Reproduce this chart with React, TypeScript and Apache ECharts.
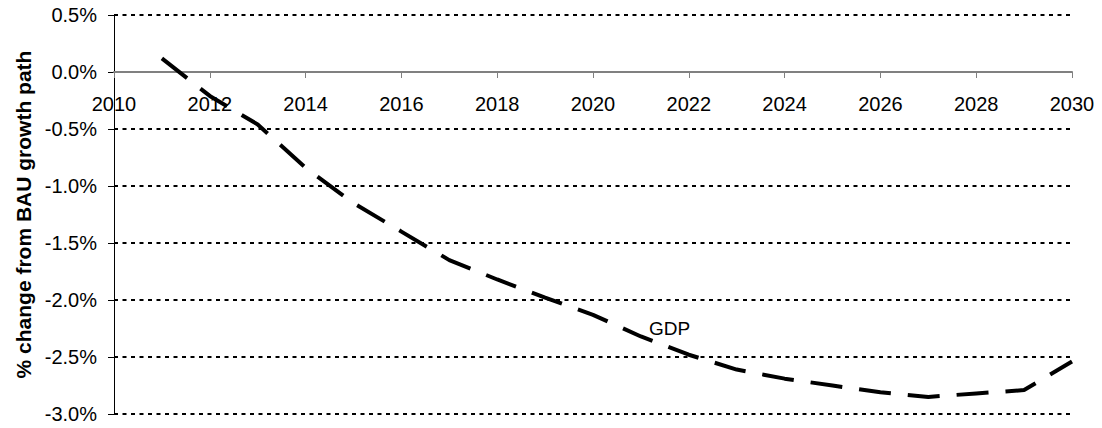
import React, { useEffect, useRef } from "react";
import * as echarts from "echarts";

const years = [2011, 2012, 2013, 2014, 2015, 2016, 2017, 2018, 2019, 2020, 2021, 2022, 2023, 2024, 2025, 2026, 2027, 2028, 2029, 2030];
const gdp = [0.12, -0.21, -0.46, -0.84, -1.15, -1.40, -1.65, -1.82, -1.98, -2.13, -2.32, -2.48, -2.61, -2.69, -2.75, -2.81, -2.85, -2.82, -2.79, -2.54];
const seriesName = "GDP";
const labelYear = 2021;
const yTitle = "% change from BAU growth path";
const yMin = -3;
const yMax = 0.5;

export default function App() {
  const ref = useRef<HTMLDivElement>(null);
  useEffect(() => {
    if (!ref.current) return;
    const chart = echarts.init(ref.current, undefined, { renderer: "svg" });
    const font = "Arial, 'Liberation Sans', sans-serif";
    const li = years.indexOf(labelYear);
    const gridTop = 15;
    const gridBottom = 14;
    const gridH = 428 - gridTop - gridBottom;
    // shift the x axis up from the grid bottom to the zero line
    const zeroOffset = -gridH * ((0 - yMin) / (yMax - yMin));
    chart.setOption({
      animation: false,
      backgroundColor: "#ffffff",
      grid: { left: 114, right: 30, top: gridTop, bottom: gridBottom, containLabel: false, outerBoundsMode: "none" },
      xAxis: {
        type: "value",
        min: 2010,
        max: 2030,
        interval: 2,
        offset: zeroOffset,
        z: 3,
        axisLine: { onZero: false, lineStyle: { color: "#808080", width: 2 } },
        axisTick: { show: true, length: 6, lineStyle: { color: "#808080", width: 1 } },
        axisLabel: {
          color: "#000",
          fontSize: 20,
          fontFamily: font,
          margin: 22,
          formatter: (v: number) => String(v),
        },
        splitLine: { show: false },
      },
      yAxis: {
        type: "value",
        min: yMin,
        max: yMax,
        interval: 0.5,
        name: yTitle,
        nameLocation: "middle",
        nameRotate: 90,
        nameGap: 60,
        nameTextStyle: { color: "#000", fontSize: 21, fontWeight: "bold", fontFamily: font },
        axisLine: { show: true, onZero: false, lineStyle: { color: "#000", width: 1 } },
        axisTick: { show: true, length: 6, lineStyle: { color: "#000" } },
        axisLabel: {
          color: "#000",
          fontSize: 20,
          fontFamily: font,
          margin: 17,
          formatter: (v: number) => v.toFixed(1) + "%",
        },
        splitLine: { show: true, lineStyle: { color: "#000", width: 2, type: [4, 4.5] } },
      },
      series: [
        {
          name: seriesName,
          type: "line",
          data: years.map((y, i) => [y, gdp[i]]),
          showSymbol: false,
          symbol: "none",
          lineStyle: { color: "#000", width: 4, type: [32, 17], cap: "butt" },
          markPoint: {
            symbol: "circle",
            symbolSize: 0,
            data: [
              {
                coord: [years[li], gdp[li]],
                label: {
                  show: true,
                  formatter: seriesName,
                  position: "right",
                  distance: 8,
                  offset: [0, -8],
                  color: "#000",
                  fontSize: 19,
                  fontFamily: font,
                },
              },
            ],
          },
          z: 5,
        },
      ],
    });
    return () => chart.dispose();
  }, []);
  return (
    <div
      ref={ref}
      style={{ position: "fixed", left: 0, top: 0, width: 1102, height: 428 }}
    />
  );
}
